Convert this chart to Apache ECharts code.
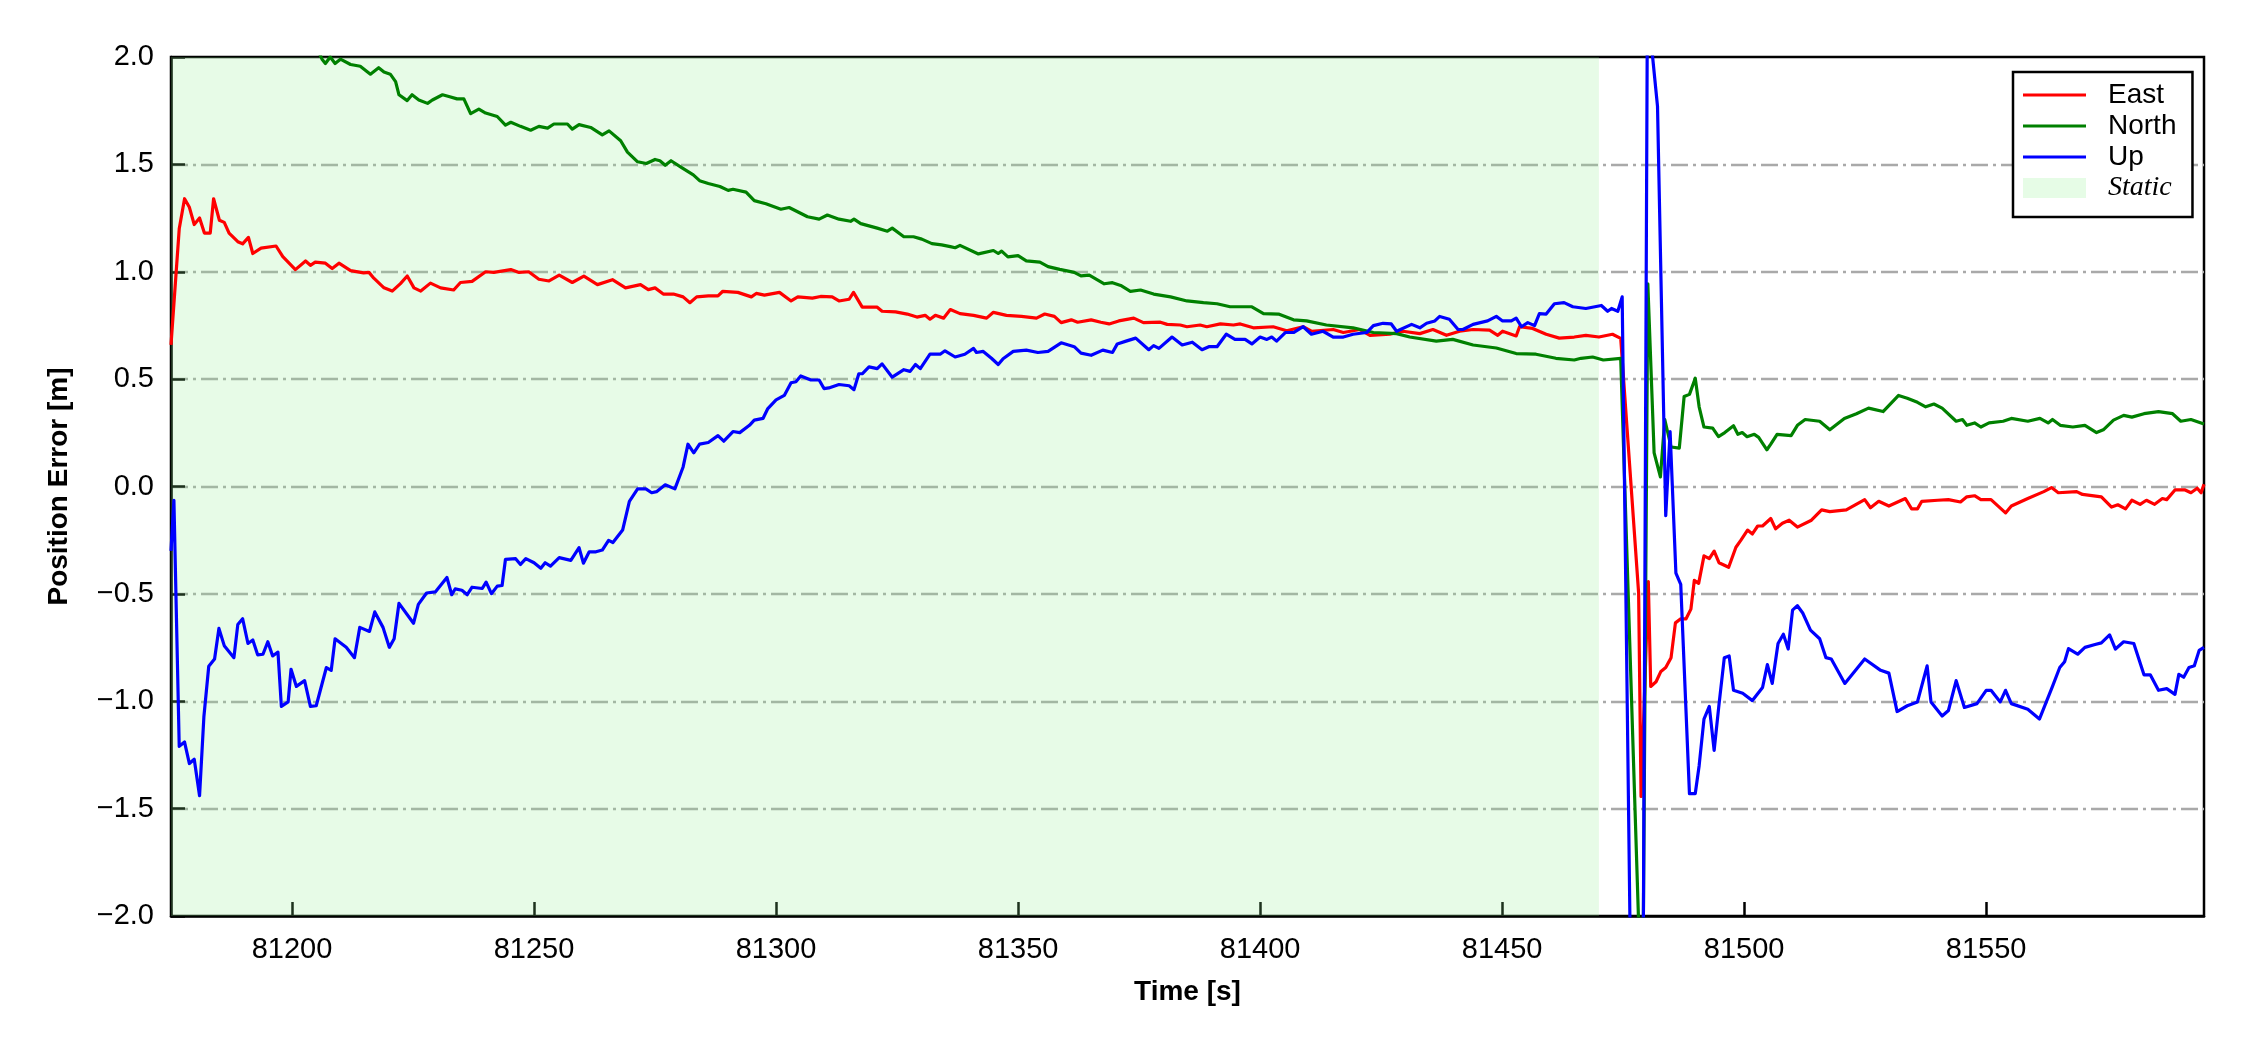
<!DOCTYPE html>
<html>
<head>
<meta charset="utf-8">
<script src="https://cdn.jsdelivr.net/npm/echarts@6/dist/echarts.min.js"></script>
<style>
html,body{margin:0;padding:0;background:#fff;}
#chart{width:2250px;height:1050px;}
</style>
</head>
<body>
<div id="chart"></div>
<script>
// ---- data (time in s, position error in m) ----
const eastTime = [81175,81176.7,81177.8,81178.8,81179.8,81180.9,81181.9,81183.1,81183.8,81185,81186,81187,81188.8,81189.8,81191,81191.9,81193.6,81196.7,81198.1,81200.7,81202.8,81203.8,81204.8,81206.9,81208.3,81209.7,81212.1,81214.8,81215.9,81216.9,81219,81220.7,81222.4,81223.8,81225.2,81226.6,81228.6,81230.7,81233.4,81234.8,81237.2,81240,81241.7,81245.2,81246.9,81248.9,81251,81253.1,81255.2,81257.9,81260.3,81263.1,81266.2,81268.9,81272,81273.6,81275,81276.7,81278.8,81280.8,81282.2,81283.6,81286,81288,81289,81292.1,81294.9,81295.9,81297.6,81300.7,81303.1,81304.5,81307.5,81309.2,81311.6,81313,81315.1,81316,81317.8,81320.9,81321.9,81324.7,81327.1,81329.1,81330.8,81331.8,81332.9,81334.6,81336,81338,81340.8,81343.5,81344.9,81347.6,81350.7,81353.8,81355.5,81357.5,81358.9,81361,81362.3,81365.1,81367.1,81368.8,81370.8,81373.9,81375.9,81379.4,81380.8,81383.5,81384.9,81387.6,81389,81391.8,81394.5,81395.9,81398.6,81402.7,81405.5,81408.9,81410.6,81415.1,81417.2,81420.6,81422.7,81426.8,81429.5,81433,81435.7,81438.5,81441.2,81444,81447.4,81449.1,81450.1,81452.9,81453.6,81456.3,81459.1,81461.8,81464.9,81467.3,81470,81472.8,81474.5,81478.2,81478.7,81480.2,81480.7,81481.8,81482.8,81483.8,81484.9,81485.8,81486.9,81488,81489,81489.7,81490.6,81491.7,81492.8,81493.8,81494.8,81496.8,81498.3,81499.3,81500.7,81501.7,81502.8,81503.8,81505.5,81506.5,81507.9,81509.3,81511,81513.9,81516,81517.7,81521.1,81524.9,81526.1,81527.8,81529.9,81533.3,81534.6,81535.8,81536.7,81540,81542.2,81544.7,81546,81547.6,81548.9,81551,81554,81555.2,81558.6,81561.9,81563.5,81564.9,81568.7,81569.9,81573.8,81575.9,81577.2,81578.8,81580.1,81581.8,81583.1,81584.8,81586.4,81587.3,81589,81591.1,81592.3,81593.6,81594.4,81595];
const eastError = [0.66,1.20,1.34,1.30,1.22,1.25,1.18,1.18,1.34,1.24,1.23,1.18,1.14,1.13,1.16,1.085,1.11,1.12,1.07,1.01,1.05,1.03,1.045,1.04,1.015,1.04,1.005,0.995,0.997,0.97,0.925,0.91,0.945,0.98,0.925,0.91,0.947,0.925,0.915,0.95,0.955,1.0,0.997,1.01,0.997,1.0,0.965,0.957,0.984,0.95,0.98,0.94,0.963,0.925,0.94,0.917,0.925,0.896,0.896,0.883,0.856,0.883,0.888,0.888,0.909,0.904,0.883,0.899,0.891,0.904,0.864,0.883,0.877,0.885,0.883,0.864,0.872,0.904,0.835,0.835,0.816,0.813,0.803,0.789,0.797,0.779,0.797,0.784,0.824,0.805,0.797,0.784,0.811,0.797,0.792,0.784,0.803,0.792,0.763,0.776,0.765,0.776,0.765,0.757,0.771,0.784,0.763,0.765,0.755,0.752,0.744,0.752,0.744,0.757,0.752,0.757,0.739,0.744,0.725,0.744,0.723,0.731,0.717,0.731,0.704,0.709,0.723,0.712,0.731,0.704,0.723,0.731,0.728,0.704,0.723,0.701,0.744,0.736,0.709,0.691,0.696,0.704,0.696,0.709,0.69,-0.496,-1.443,-0.443,-0.931,-0.909,-0.861,-0.843,-0.797,-0.635,-0.616,-0.616,-0.571,-0.437,-0.451,-0.323,-0.336,-0.301,-0.355,-0.376,-0.283,-0.251,-0.203,-0.221,-0.184,-0.184,-0.149,-0.197,-0.171,-0.157,-0.189,-0.157,-0.109,-0.117,-0.109,-0.061,-0.099,-0.069,-0.091,-0.056,-0.104,-0.104,-0.069,-0.064,-0.061,-0.072,-0.048,-0.043,-0.061,-0.061,-0.123,-0.091,-0.056,-0.024,-0.005,-0.029,-0.024,-0.037,-0.048,-0.096,-0.085,-0.104,-0.064,-0.083,-0.064,-0.083,-0.056,-0.061,-0.016,-0.016,-0.029,-0.008,-0.029,0.011];

const northTime = [81205,81206.2,81206.9,81207.9,81208.9,81210,81212.1,81214.1,81216.2,81217.9,81219,81220.3,81221.4,81222.1,81223.8,81224.8,81226.2,81228,81229,81231.1,81232.4,81234.1,81235.5,81236.9,81238.6,81240,81242.4,81244.1,81245.2,81247.2,81249.3,81251,81252.8,81254.1,81256.9,81257.9,81259.3,81261.7,81264.1,81265.5,81267.9,81269.3,81271.4,81273.2,81275,81276,81277.1,81278.3,81280.5,81282.9,81284.2,81286,81288.4,81290.1,81291.1,81293.8,81295.5,81297.9,81301,81302.7,81306.5,81308.9,81310.6,81313,81315.4,81316.1,81317.5,81320.9,81323,81324,81326.4,81328.4,81330.1,81332.2,81334.2,81336,81337,81338,81341.8,81344.9,81345.9,81346.6,81347.9,81350,81351.7,81354.5,81356.2,81358.6,81361.6,81363,81364.7,81367.8,81369.5,81371.2,81373.2,81375.3,81378,81381.5,81384.9,81388.3,81391.1,81393.8,81398.3,81400.7,81403.8,81406.9,81409.6,81413.7,81419.2,81423.4,81428.2,81430.9,81436.4,81439.8,81444,81448.8,81452.9,81457,81461.1,81464.9,81466.3,81468.7,81470.9,81474.5,81479.0,81480.1,81481.4,81482.7,81483.6,81484.9,81486.6,81487.6,81488.7,81489.9,81490.7,81491.7,81493.5,81494.7,81496,81497.8,81498.7,81499.6,81500.6,81502.1,81503,81504.7,81505.5,81506.8,81509.7,81511,81512.6,81515.6,81517.7,81520.7,81523.2,81525.7,81528.7,81531.9,81533.7,81535.8,81537.5,81539.2,81540.9,81543.8,81545.1,81546,81547.6,81548.9,81550.6,81553.5,81555.2,81558.6,81561.1,81562.8,81563.7,81565.3,81567.9,81570.4,81572.8,81574.2,81576.3,81578.4,81580.1,81582.6,81585.6,81588.5,81590.2,81592.3,81595];
const northError = [2.05,1.99,1.97,2.0,1.97,1.99,1.965,1.957,1.92,1.95,1.93,1.92,1.885,1.824,1.797,1.824,1.80,1.784,1.80,1.824,1.816,1.805,1.805,1.736,1.757,1.739,1.723,1.683,1.696,1.677,1.659,1.677,1.669,1.688,1.688,1.664,1.685,1.672,1.637,1.656,1.61,1.557,1.512,1.504,1.523,1.517,1.496,1.517,1.485,1.451,1.424,1.411,1.397,1.379,1.384,1.371,1.331,1.317,1.291,1.299,1.256,1.245,1.264,1.245,1.235,1.245,1.224,1.203,1.189,1.203,1.163,1.163,1.152,1.131,1.125,1.117,1.112,1.123,1.083,1.099,1.085,1.096,1.069,1.075,1.051,1.045,1.024,1.011,0.997,0.981,0.984,0.944,0.949,0.936,0.909,0.915,0.896,0.883,0.864,0.856,0.851,0.837,0.837,0.805,0.803,0.776,0.771,0.752,0.739,0.717,0.712,0.696,0.677,0.685,0.659,0.645,0.619,0.616,0.597,0.589,0.597,0.603,0.589,0.597,-2.6,0.944,0.157,0.045,0.312,0.184,0.179,0.419,0.429,0.504,0.371,0.277,0.272,0.232,0.251,0.283,0.243,0.251,0.232,0.243,0.229,0.171,0.197,0.243,0.237,0.285,0.312,0.304,0.264,0.317,0.339,0.365,0.349,0.424,0.411,0.392,0.371,0.384,0.365,0.304,0.312,0.285,0.296,0.277,0.296,0.304,0.317,0.304,0.317,0.296,0.312,0.285,0.277,0.285,0.251,0.264,0.309,0.331,0.323,0.339,0.349,0.339,0.304,0.312,0.291];

const upTime = [81175,81175.6,81176.7,81177.8,81178.8,81179.8,81180.9,81181.8,81182.8,81184,81184.9,81186,81188,81188.8,81189.8,81190.9,81191.9,81192.9,81194,81195,81196,81197.1,81197.8,81199.2,81199.8,81200.9,81202.6,81203.8,81205,81207.1,81208.1,81208.9,81211.2,81212.9,81214,81216,81217.1,81218.8,81220.1,81221.1,81222.1,81225.1,81226.1,81227.8,81229.6,81232,81233,81233.7,81235.1,81236.2,81237.2,81239.3,81240.1,81241.2,81242.4,81243.4,81244.1,81246.2,81247.2,81248.3,81250,81251.4,81252.3,81253.4,81255.2,81257.6,81259.3,81260.2,81261.4,81262.8,81264.1,81265.4,81266.3,81268.3,81269.7,81271.4,81273.1,81274.3,81275.3,81277.1,81279.1,81280.8,81281.8,81283,81284.2,81286,81288,81289.2,81291.1,81292.5,81294.5,81295.5,81297.3,81298.3,81300,81301.7,81303.1,81304.1,81305.1,81307.2,81308.9,81309.9,81310.9,81313,81315.1,81316.1,81317.1,81317.8,81319.2,81320.9,81321.9,81324,81326.4,81327.7,81328.8,81329.8,81331.8,81333.9,81334.9,81337,81339,81340.8,81341.4,81342.8,81344.5,81345.9,81346.9,81349,81351.7,81354.1,81356.2,81358.9,81361.6,81363,81365.1,81367.5,81369.5,81370.5,81372.3,81374.3,81377,81378,81379.1,81381.8,81383.9,81386,81388,81389.4,81391.1,81393,81394.8,81396.9,81398.3,81400,81401.4,81402.4,81403.4,81405.2,81406.9,81408.9,81410.6,81413,81415.1,81417.2,81419.2,81422,81423.4,81425.4,81427.1,81428.2,81431.3,81433,81434.4,81436.1,81437.1,81439.1,81440.9,81441.9,81444,81447,81448.8,81450.1,81451.9,81452.9,81454,81455.3,81456.7,81457.7,81459.1,81460.8,81462.8,81464.6,81467.3,81470.5,81471.8,81472.6,81473.9,81474.8,81477.5,81478.8,81480.0,81481.0,81482.1,81483.8,81484.7,81485.9,81486.9,81488.7,81489.9,81490.7,81491.7,81492.8,81493.8,81494.8,81495.9,81496.9,81497.8,81499.7,81501.7,81503.8,81504.8,81505.8,81507,81508.1,81509.1,81510,81511,81512.1,81513.7,81515.6,81516.9,81518,81520.8,81524.9,81528.2,81529.9,81531.6,81533.7,81535.8,81537.8,81538.6,81540.9,81542.2,81543.8,81545.5,81548.1,81550,81551,81552.9,81554,81555.2,81558.6,81561,81563.7,81565.2,81566.2,81567,81568.9,81570.4,81572.5,81573.8,81575.5,81576.7,81578.4,81580.5,81582.6,81583.9,81585.6,81587.3,81589,81589.8,81590.8,81591.9,81593,81594,81595];
const upError = [-0.3,-0.064,-1.21,-1.19,-1.29,-1.27,-1.44,-1.07,-0.837,-0.803,-0.661,-0.741,-0.797,-0.643,-0.616,-0.731,-0.715,-0.784,-0.781,-0.723,-0.789,-0.771,-1.024,-1.003,-0.851,-0.931,-0.904,-1.024,-1.021,-0.843,-0.856,-0.709,-0.749,-0.797,-0.656,-0.675,-0.584,-0.656,-0.749,-0.709,-0.544,-0.637,-0.549,-0.496,-0.491,-0.424,-0.504,-0.477,-0.483,-0.504,-0.469,-0.475,-0.445,-0.499,-0.464,-0.461,-0.339,-0.336,-0.363,-0.336,-0.355,-0.381,-0.355,-0.371,-0.331,-0.344,-0.285,-0.357,-0.304,-0.304,-0.296,-0.251,-0.261,-0.203,-0.069,-0.011,-0.011,-0.029,-0.024,0.008,-0.011,0.091,0.197,0.157,0.197,0.205,0.237,0.211,0.256,0.251,0.285,0.309,0.317,0.363,0.403,0.424,0.483,0.488,0.515,0.496,0.496,0.456,0.459,0.475,0.469,0.451,0.525,0.525,0.557,0.549,0.571,0.509,0.544,0.536,0.568,0.549,0.616,0.616,0.632,0.603,0.616,0.643,0.624,0.629,0.597,0.568,0.595,0.629,0.635,0.624,0.629,0.669,0.651,0.621,0.611,0.635,0.624,0.664,0.677,0.691,0.637,0.656,0.643,0.696,0.659,0.672,0.637,0.651,0.651,0.709,0.685,0.685,0.664,0.696,0.685,0.696,0.677,0.717,0.717,0.744,0.709,0.723,0.696,0.696,0.709,0.717,0.749,0.76,0.757,0.723,0.755,0.739,0.76,0.771,0.792,0.779,0.731,0.731,0.755,0.771,0.792,0.771,0.771,0.784,0.744,0.763,0.749,0.805,0.803,0.851,0.856,0.837,0.829,0.843,0.816,0.829,0.816,0.883,-4.0,-4.0,2.2,2.02,1.77,-0.136,0.256,-0.403,-0.456,-1.43,-1.43,-1.30,-1.083,-1.024,-1.229,-1.016,-0.797,-0.789,-0.949,-0.963,-0.997,-0.936,-0.829,-0.917,-0.731,-0.688,-0.757,-0.576,-0.555,-0.589,-0.669,-0.709,-0.797,-0.803,-0.917,-0.803,-0.856,-0.869,-1.048,-1.021,-1.003,-0.835,-1.003,-1.069,-1.043,-0.904,-1.029,-1.011,-0.949,-0.949,-1.003,-0.949,-1.011,-1.037,-1.083,-0.931,-0.843,-0.816,-0.755,-0.781,-0.749,-0.736,-0.728,-0.691,-0.757,-0.723,-0.731,-0.877,-0.877,-0.949,-0.941,-0.968,-0.875,-0.888,-0.843,-0.835,-0.763,-0.749];

const staticStart = 81175;
const staticEnd = 81470;
const xTickValues = [81200,81250,81300,81350,81400,81450,81500,81550];
const seriesNames = ['East','North','Up','Static'];

// ---- chart ----
const zip = (t, v) => t.map((x, i) => [x, v[i]]);
const chart = echarts.init(document.getElementById('chart'), null, {renderer: 'canvas'});
const FONT = 'Liberation Sans, Arial, sans-serif';
const LINE_ICON = 'path://M0,0 L63,0 L63,3 L0,3 Z';
const lineSeries = (name, color, t, v) => ({
  name, type: 'line', data: zip(t, v), symbol: 'none', showSymbol: false, clip: true,
  lineStyle: {color, width: 3.2, join: 'round'}, itemStyle: {color}, z: 3,
  emphasis: {disabled: true}
});
chart.setOption({
  animation: false,
  backgroundColor: '#fff',
  grid: {left: 171, right: 46, top: 57, bottom: 134, show: true, borderColor: '#000', borderWidth: 2.5, backgroundColor: 'transparent'},
  xAxis: {
    type: 'value', min: 81175, max: 81595,
    name: 'Time [s]', nameLocation: 'middle', nameGap: 62,
    nameTextStyle: {fontFamily: FONT, fontWeight: 'bold', fontSize: 28, color: '#000'},
    axisLine: {show: true, onZero: false, lineStyle: {color: '#000', width: 2.5}},
    axisTick: {show: true, inside: true, length: 14, lineStyle: {color: '#000', width: 2.5}, customValues: xTickValues},
    axisLabel: {fontFamily: FONT, fontSize: 29, color: '#000', margin: 19, customValues: xTickValues, formatter: v => String(v)},
    splitLine: {show: false}
  },
  yAxis: {
    type: 'value', min: -2, max: 2, interval: 0.5,
    name: 'Position Error [m]', nameLocation: 'middle', nameGap: 98,
    nameTextStyle: {fontFamily: FONT, fontWeight: 'bold', fontSize: 28, color: '#000'},
    axisLine: {show: true, onZero: false, lineStyle: {color: '#000', width: 2.5}},
    axisTick: {show: true, inside: true, length: 14, lineStyle: {color: '#000', width: 2.5}},
    axisLabel: {fontFamily: FONT, fontSize: 29, color: '#000', margin: 17, showMinLabel: true, showMaxLabel: true,
      formatter: v => v.toFixed(1).replace('-', '\u2212')},
    splitLine: {show: true, showMinLine: false, showMaxLine: false, lineStyle: {color: '#a9a9a9', width: 2.3, type: [17, 5, 3, 5]}}
  },
  legend: {
    orient: 'vertical', left: 2013, top: 72,
    itemWidth: 63, itemHeight: 20, itemGap: 3,
    padding: [9, 16, 15, 10],
    backgroundColor: '#fff', borderColor: '#000', borderWidth: 2.5, borderRadius: 0,
    textStyle: {fontFamily: FONT, fontSize: 28, color: '#000', padding: [0, 0, 0, 17]},
    selectedMode: false,
    data: [
      {name: seriesNames[0], icon: LINE_ICON, itemStyle: {color: '#ff0000'}},
      {name: seriesNames[1], icon: LINE_ICON, itemStyle: {color: '#008000'}},
      {name: seriesNames[2], icon: LINE_ICON, itemStyle: {color: '#0000ff'}},
      {name: seriesNames[3], icon: 'rect', itemStyle: {color: 'rgb(230,252,230)'},
       textStyle: {fontFamily: 'Liberation Serif, Times New Roman, serif', fontStyle: 'italic', fontSize: 28, color: '#000'}}
    ]
  },
  series: [
    lineSeries(seriesNames[0], '#ff0000', eastTime, eastError),
    lineSeries(seriesNames[1], '#008000', northTime, northError),
    lineSeries(seriesNames[2], '#0000ff', upTime, upError),
    {
      name: seriesNames[3], type: 'line', data: [], symbol: 'none',
      itemStyle: {color: 'rgb(230,252,230)'}, lineStyle: {width: 0},
      markArea: {silent: true, itemStyle: {color: 'rgba(144,238,144,0.21)'},
        data: [[{xAxis: staticStart}, {xAxis: staticEnd}]]},
      z: 1
    }
  ]
});
</script>
</body>
</html>
